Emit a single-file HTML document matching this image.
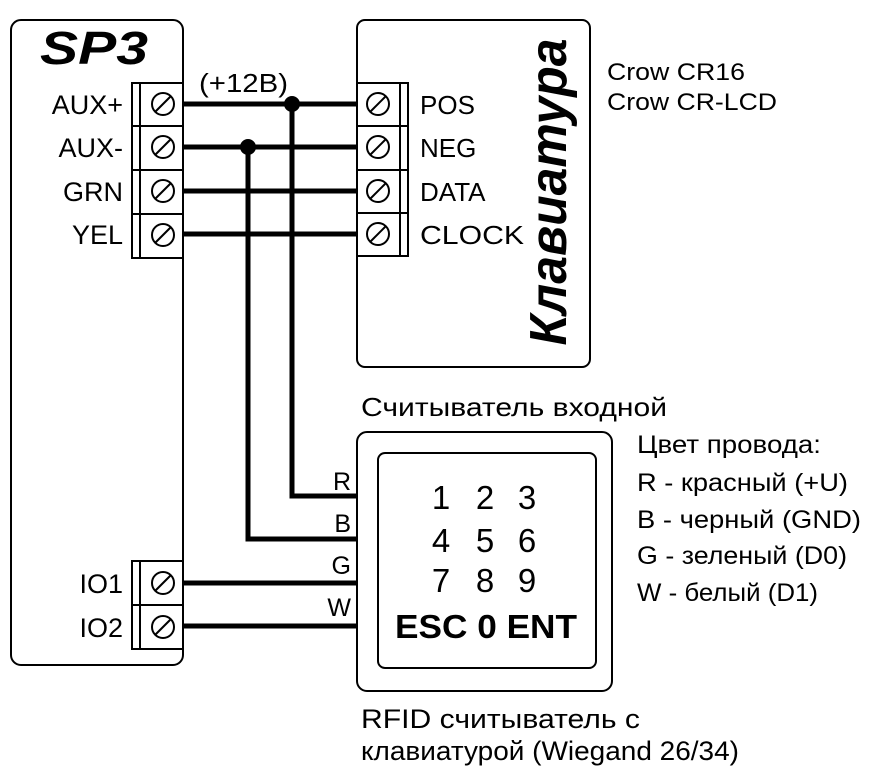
<!DOCTYPE html>
<html><head><meta charset="utf-8"><style>
html,body{margin:0;padding:0;background:#fff;}
svg{display:block;}
text{font-family:"Liberation Sans",sans-serif;fill:#000;}
</style></head><body>
<svg width="873" height="779" viewBox="0 0 873 779" xmlns="http://www.w3.org/2000/svg">
<defs>
<g id="scr"><circle r="11" fill="none" stroke="#000" stroke-width="2"/><line x1="-8" y1="8" x2="8" y2="-8" stroke="#000" stroke-width="2"/></g>
</defs>
<g fill="none" stroke="#000" stroke-width="2">
<rect x="11" y="20" width="172" height="645" rx="10"/>
<rect x="132" y="83" width="51" height="175" fill="#fff"/>
<line x1="140" y1="83" x2="140" y2="258"/>
<line x1="132" y1="126" x2="183" y2="126"/><line x1="132" y1="170" x2="183" y2="170"/><line x1="132" y1="214" x2="183" y2="214"/>
<rect x="132" y="561" width="51" height="88" fill="#fff"/>
<line x1="140" y1="561" x2="140" y2="649"/>
<line x1="132" y1="605" x2="183" y2="605"/>
<rect x="357" y="20" width="233" height="347" rx="8"/>
<rect x="357" y="83" width="51" height="173" fill="#fff"/>
<line x1="400" y1="83" x2="400" y2="256"/>
<line x1="357" y1="126" x2="408" y2="126"/><line x1="357" y1="170" x2="408" y2="170"/><line x1="357" y1="213" x2="408" y2="213"/>
<rect x="357" y="432" width="255" height="259" rx="10"/>
<rect x="378" y="453" width="218" height="215" rx="7"/>
</g>
<use href="#scr" x="163" y="104"/><use href="#scr" x="163" y="147"/><use href="#scr" x="163" y="191"/><use href="#scr" x="163" y="235"/>
<use href="#scr" x="163" y="583"/><use href="#scr" x="163" y="627"/>
<use href="#scr" x="378" y="104"/><use href="#scr" x="378" y="147"/><use href="#scr" x="378" y="191"/><use href="#scr" x="378" y="234"/>
<g stroke="#000" stroke-width="5" fill="none">
<line x1="183" y1="104" x2="357" y2="104"/>
<line x1="183" y1="147" x2="357" y2="147"/>
<line x1="183" y1="191" x2="357" y2="191"/>
<line x1="183" y1="234" x2="357" y2="234"/>
<polyline points="292,104 292,496 357,496"/>
<polyline points="248,147 248,539 357,539"/>
<line x1="183" y1="583" x2="357" y2="583"/>
<line x1="183" y1="626" x2="357" y2="626"/>
</g>
<circle cx="292" cy="104" r="8"/><circle cx="248" cy="147" r="8"/>
<text x="40" y="64" font-size="46" font-weight="bold" font-style="italic" textLength="108" lengthAdjust="spacingAndGlyphs">SP3</text>
<g font-size="27" text-anchor="end">
<text x="123" y="114">AUX+</text><text x="123" y="157">AUX-</text><text x="123" y="201">GRN</text><text x="123" y="244">YEL</text>
<text x="123" y="593">IO1</text><text x="123" y="637">IO2</text>
<text x="351" y="490" font-size="25">R</text><text x="351" y="532" font-size="25">B</text><text x="351" y="574" font-size="25">G</text><text x="351" y="616" font-size="25">W</text>
</g>
<text x="199" y="92" font-size="26" textLength="89" lengthAdjust="spacingAndGlyphs">(+12В)</text>
<g font-size="26">
<text x="420" y="114">POS</text><text x="420" y="157">NEG</text><text x="420" y="201">DATA</text><text x="420" y="244" textLength="104" lengthAdjust="spacingAndGlyphs">CLOCK</text>
<text x="607" y="80" font-size="24" textLength="138" lengthAdjust="spacingAndGlyphs">Crow CR16</text>
<text x="607" y="110" font-size="24" textLength="170" lengthAdjust="spacingAndGlyphs">Crow CR-LCD</text>
<text x="361" y="416" textLength="306" lengthAdjust="spacingAndGlyphs">Считыватель входной</text>
<text x="637" y="453" font-size="25" textLength="184" lengthAdjust="spacingAndGlyphs">Цвет провода:</text>
<text x="637" y="491" font-size="25" textLength="211" lengthAdjust="spacingAndGlyphs">R - красный (+U)</text>
<text x="637" y="528" font-size="25" textLength="224" lengthAdjust="spacingAndGlyphs">B - черный (GND)</text>
<text x="637" y="564" font-size="25" textLength="210" lengthAdjust="spacingAndGlyphs">G - зеленый (D0)</text>
<text x="637" y="601" font-size="25" textLength="181" lengthAdjust="spacingAndGlyphs">W - белый (D1)</text>
<text x="361" y="728" font-size="27" textLength="279" lengthAdjust="spacingAndGlyphs">RFID считыватель с</text>
<text x="361" y="760" font-size="27" textLength="378" lengthAdjust="spacingAndGlyphs">клавиатурой (Wiegand 26/34)</text>
</g>
<text transform="translate(566,192) rotate(-90)" text-anchor="middle" font-size="52" font-weight="bold" font-style="italic" textLength="307" lengthAdjust="spacingAndGlyphs">Клавиатура</text>
<g font-size="33" text-anchor="middle">
<text x="441" y="509">1</text><text x="485" y="509">2</text><text x="527" y="509">3</text>
<text x="441" y="552">4</text><text x="485" y="552">5</text><text x="527" y="552">6</text>
<text x="441" y="592">7</text><text x="485" y="592">8</text><text x="527" y="592">9</text>
<text x="486" y="638" font-weight="bold" textLength="182" lengthAdjust="spacingAndGlyphs">ESC 0 ENT</text>
</g>
</svg>
</body></html>
